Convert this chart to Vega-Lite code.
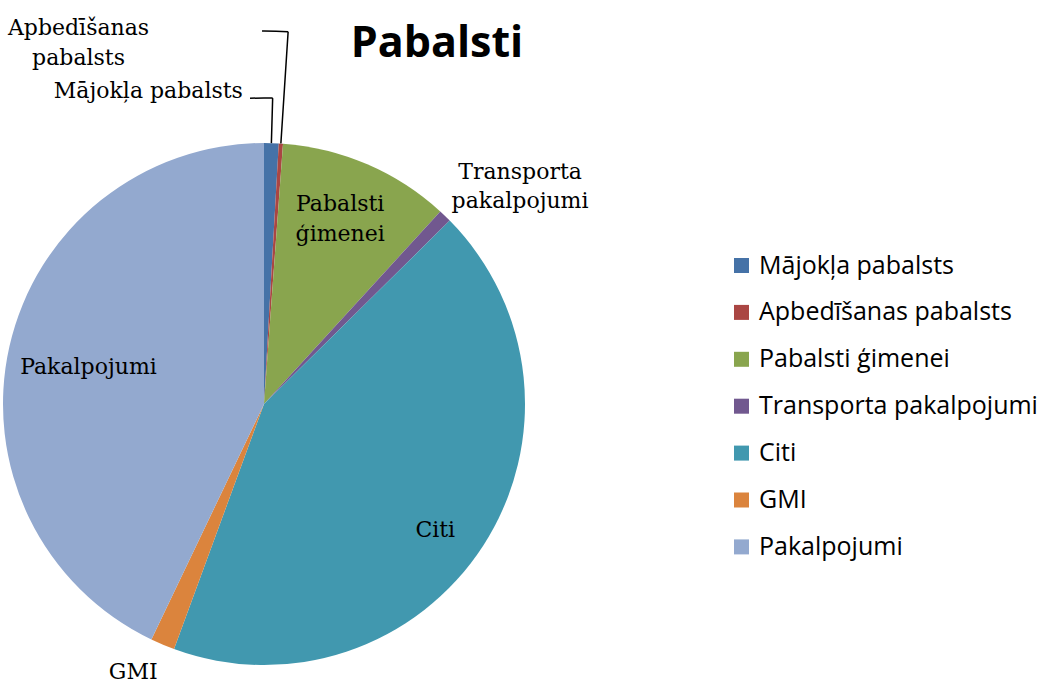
{
  "$schema": "https://vega.github.io/schema/vega-lite/v6.json",
  "width": 528,
  "height": 522,
  "autosize": "none",
  "padding": {"left": 0, "top": 143, "right": 509, "bottom": 21},
  "background": "white",
  "title": {"text": "Pabalsti", "font": "Open Sans", "fontSize": 43, "fontWeight": "bold", "color": "#000", "anchor": "middle", "frame": "group", "dx": 173, "offset": 0, "dy": 49},
  "data": {"values": [
    {"cat": "Mājokļa pabalsts", "value": 0.9, "order": 1},
    {"cat": "Apbedīšanas pabalsts", "value": 0.26, "order": 2},
    {"cat": "Pabalsti ģimenei", "value": 10.64, "order": 3},
    {"cat": "Transporta pakalpojumi", "value": 0.8, "order": 4},
    {"cat": "Citi", "value": 43.0, "order": 5},
    {"cat": "GMI", "value": 1.5, "order": 6},
    {"cat": "Pakalpojumi", "value": 42.9, "order": 7}
  ]},
  "transform": [
    {"stack": "value", "groupby": [], "sort": [{"field": "order", "order": "ascending"}], "as": ["s0", "s1"]},
    {"calculate": "(datum.s0 + datum.s1) / 2", "as": "mid"}
  ],
  "layer": [
    {
      "mark": {"type": "arc", "radius": 261},
      "encoding": {
        "theta": {"field": "s0", "type": "quantitative", "stack": null, "scale": {"domain": [0, 100]}},
        "theta2": {"field": "s1"},
        "color": {
          "field": "cat", "type": "nominal",
          "scale": {
            "domain": ["Mājokļa pabalsts", "Apbedīšanas pabalsts", "Pabalsti ģimenei", "Transporta pakalpojumi", "Citi", "GMI", "Pakalpojumi"],
            "range": ["#4572A7", "#AA4643", "#89A54E", "#71588F", "#4198AF", "#DB843D", "#93A9CF"]
          },
          "legend": {"title": null, "orient": "none", "legendX": 729, "legendY": 110, "symbolType": "square", "symbolSize": 225, "symbolStrokeWidth": 0, "symbolOpacity": 1, "labelFont": "Open Sans", "labelFontSize": 25, "labelColor": "#000", "labelOffset": 5, "rowPadding": 20.9, "padding": 0, "labelLimit": 400}
        }
      }
    },
    {
      "transform": [{"filter": "datum.cat === 'Mājokļa pabalsts'"}],
      "mark": {"type": "arc", "radius": 306, "radius2": 261, "filled": false, "stroke": "#000", "strokeWidth": 1.5},
      "encoding": {"theta": {"field": "mid", "type": "quantitative", "stack": null}, "theta2": {"field": "mid"}}
    },
    {
      "transform": [{"filter": "datum.cat === 'Mājokļa pabalsts'"}],
      "mark": {"type": "arc", "radius": 306, "radius2": 306, "theta2Offset": -0.074, "filled": false, "stroke": "#000", "strokeWidth": 1.5},
      "encoding": {"theta": {"field": "mid", "type": "quantitative", "stack": null}, "theta2": {"field": "mid"}}
    },
    {
      "transform": [{"filter": "datum.cat === 'Apbedīšanas pabalsts'"}],
      "mark": {"type": "arc", "radius": 373, "radius2": 261, "filled": false, "stroke": "#000", "strokeWidth": 1.5},
      "encoding": {"theta": {"field": "mid", "type": "quantitative", "stack": null}, "theta2": {"field": "mid"}}
    },
    {
      "transform": [{"filter": "datum.cat === 'Apbedīšanas pabalsts'"}],
      "mark": {"type": "arc", "radius": 373, "radius2": 373, "theta2Offset": -0.07, "filled": false, "stroke": "#000", "strokeWidth": 1.5},
      "encoding": {"theta": {"field": "mid", "type": "quantitative", "stack": null}, "theta2": {"field": "mid"}}
    },
    {
      "transform": [{"filter": "datum.cat === 'Pakalpojumi'"}],
      "mark": {"type": "text", "radius": 180, "dy": 3, "font": "DejaVu Serif", "fontSize": 22, "color": "#000"},
      "encoding": {"theta": {"field": "mid", "type": "quantitative", "stack": null}, "text": {"field": "cat"}}
    },
    {
      "transform": [{"filter": "datum.cat === 'Citi'"}],
      "mark": {"type": "text", "radius": 212, "dx": -7, "dy": 11, "font": "DejaVu Serif", "fontSize": 22, "color": "#000"},
      "encoding": {"theta": {"field": "mid", "type": "quantitative", "stack": null}, "text": {"field": "cat"}}
    },
    {
      "transform": [{"filter": "datum.cat === 'Pabalsti ģimenei'"}],
      "mark": {"type": "text", "radius": 200, "dx": -3, "dy": -16, "lineBreak": " ", "lineHeight": 30, "font": "DejaVu Serif", "fontSize": 22, "color": "#000"},
      "encoding": {"theta": {"field": "mid", "type": "quantitative", "stack": null}, "text": {"field": "cat"}}
    },
    {
      "transform": [{"filter": "datum.cat === 'Transporta pakalpojumi'"}],
      "mark": {"type": "text", "radius": 336, "dx": 23, "dy": 10, "lineBreak": " ", "lineHeight": 29, "font": "DejaVu Serif", "fontSize": 22, "color": "#000"},
      "encoding": {"theta": {"field": "mid", "type": "quantitative", "stack": null}, "text": {"field": "cat"}}
    },
    {
      "transform": [{"filter": "datum.cat === 'GMI'"}],
      "mark": {"type": "text", "radius": 298, "dx": -15, "dy": -7, "font": "DejaVu Serif", "fontSize": 22, "color": "#000"},
      "encoding": {"theta": {"field": "mid", "type": "quantitative", "stack": null}, "text": {"field": "cat"}}
    },
    {
      "transform": [{"filter": "datum.cat === 'Mājokļa pabalsts'"}],
      "mark": {"type": "text", "radius": 313, "dx": -30, "align": "right", "font": "DejaVu Serif", "fontSize": 22, "color": "#000"},
      "encoding": {"theta": {"field": "mid", "type": "quantitative", "stack": null}, "text": {"field": "cat"}}
    },
    {
      "transform": [{"filter": "datum.cat === 'Apbedīšanas pabalsts'"}],
      "mark": {"type": "text", "radius": 364, "dx": -209, "dy": -13, "lineBreak": " ", "lineHeight": 30, "font": "DejaVu Serif", "fontSize": 22, "color": "#000"},
      "encoding": {"theta": {"field": "mid", "type": "quantitative", "stack": null}, "text": {"field": "cat"}}
    }
  ],
  "config": {"view": {"stroke": null}}
}
